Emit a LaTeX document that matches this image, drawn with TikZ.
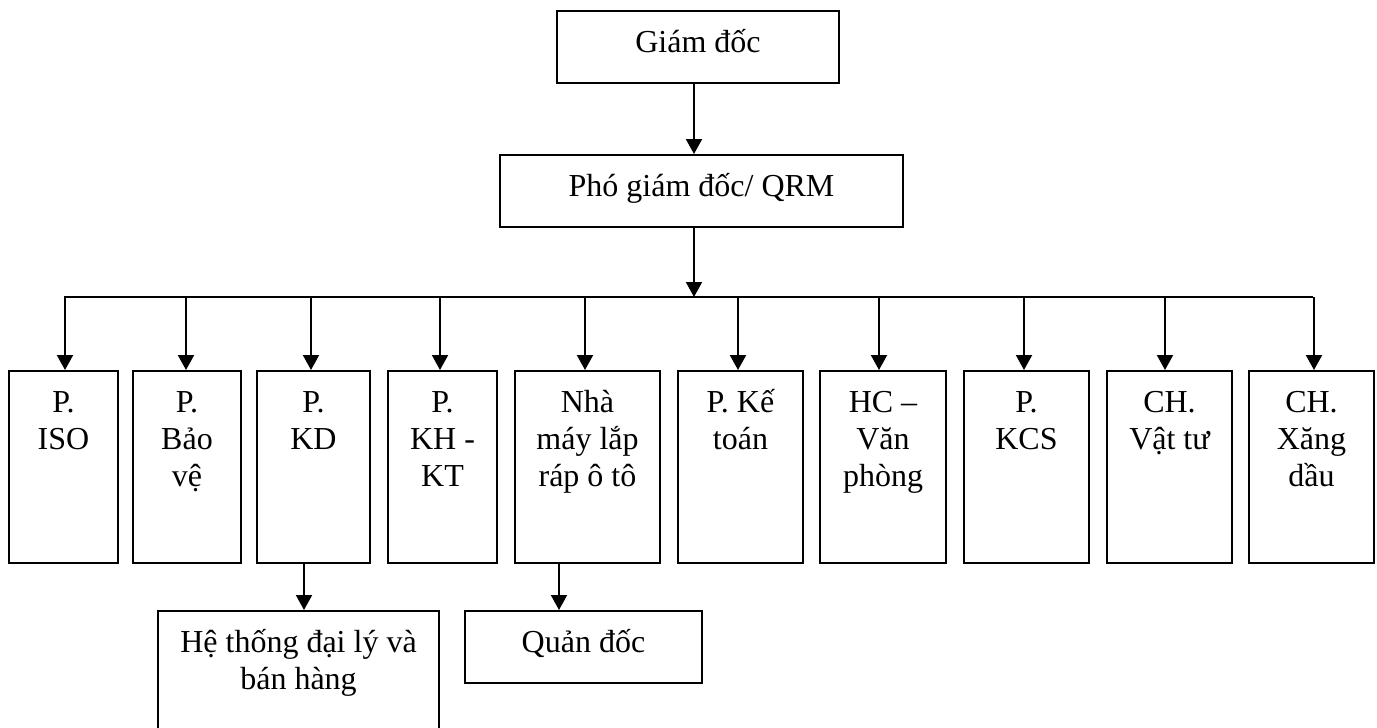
\documentclass[tikz,border=0pt]{standalone}
\usepackage{fontspec}
\setmainfont{Liberation Serif}
\usetikzlibrary{arrows.meta}

% text block of a box: fixed width and height, lines centred, first baseline 41pt below the top
\newcommand\boxtext[3]{\parbox[t][#2pt][t]{#1pt}{\centering\rule{0pt}{41pt}#3}}

\begin{document}
\begin{tikzpicture}[x=1pt,y=-1pt,
  orgbox/.style={draw, line width=2pt, inner sep=0pt, anchor=north west,
                 font=\fontsize{32}{37}\selectfont},
  arr/.style={line width=2pt, -{Triangle[length=15pt,width=16pt]}},
  busline/.style={line width=2pt}]
\clip (0,0) rectangle (1377,728);
\fill[white] (0,0) rectangle (1377,728);

% top of the chart
\node[orgbox] (giamdoc) at (556,10)  {\boxtext{282}{72}{Giám đốc}};
\node[orgbox] (pho)     at (499,154) {\boxtext{403}{72}{Phó giám đốc/ QRM}};

% departments
\node[orgbox] (iso)     at (8,370)    {\boxtext{109}{192}{P.\\ISO}};
\node[orgbox] (baove)   at (132,370)  {\boxtext{108}{192}{P.\\Bảo\\vệ}};
\node[orgbox] (kd)      at (256,370)  {\boxtext{113}{192}{P.\\KD}};
\node[orgbox] (khkt)    at (387,370)  {\boxtext{109}{192}{P.\\KH -\\KT}};
\node[orgbox] (nhamay)  at (514,370)  {\boxtext{145}{192}{Nhà\\máy lắp\\ráp ô tô}};
\node[orgbox] (ketoan)  at (677,370)  {\boxtext{125}{192}{P. Kế\\toán}};
\node[orgbox] (hcvp)    at (819,370)  {\boxtext{126}{192}{HC –\\Văn\\phòng}};
\node[orgbox] (kcs)     at (963,370)  {\boxtext{125}{192}{P.\\KCS}};
\node[orgbox] (vattu)   at (1106,370) {\boxtext{125}{192}{CH.\\Vật tư}};
\node[orgbox] (xangdau) at (1248,370) {\boxtext{125}{192}{CH.\\Xăng\\dầu}};

% second level
\node[orgbox] (daily)   at (157,610)  {\boxtext{281}{130}{Hệ thống đại lý và\\bán hàng}};
\node[orgbox] (quandoc) at (464,610)  {\boxtext{237}{72}{Quản đốc}};

% bus line
\coordinate (busL) at (64,297);
\coordinate (busR) at (1313,297);
\draw[busline] (busL) -- (busR);

% connectors
\draw[arr] ([xshift=-4pt]giamdoc.south) -- ([xshift=-4pt]giamdoc.south |- pho.north);
\draw[arr] ([xshift=-7.5pt]pho.south) -- ([xshift=-7.5pt]pho.south |- busL);

\foreach \n/\s in {iso/1.5, baove/-1, kd/-2.5, khkt/-2.5, nhamay/-2.5,
                   ketoan/-2.5, hcvp/-4, kcs/-2.5, vattu/-4.5, xangdau/2.5}
  \draw[arr] ([xshift=\s pt]\n.north |- busL) -- ([xshift=\s pt]\n.north);

\draw[arr] ([xshift=-9.5pt]kd.south) -- ([xshift=-9.5pt]kd.south |- daily.north);
\draw[arr] ([xshift=-28.5pt]nhamay.south) -- ([xshift=-28.5pt]nhamay.south |- quandoc.north);
\end{tikzpicture}
\end{document}
